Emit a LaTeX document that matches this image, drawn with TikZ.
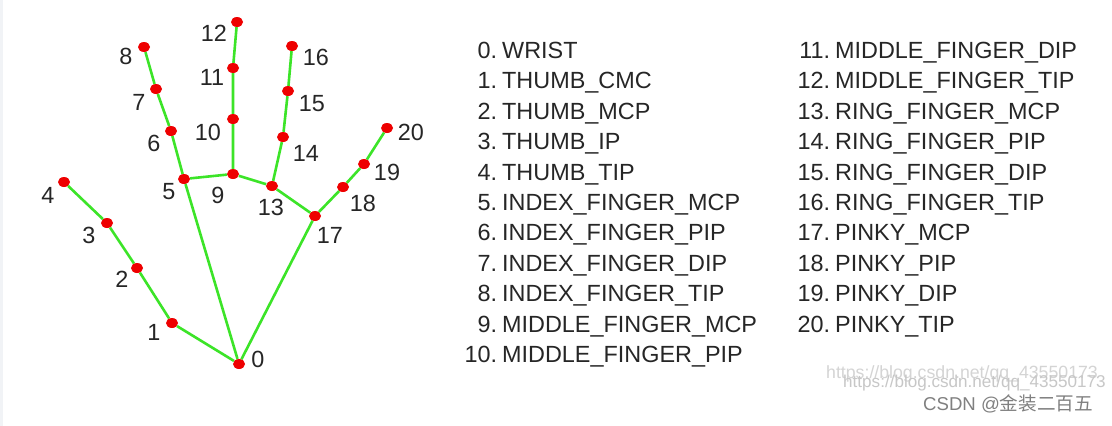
\documentclass[tikz,border=0pt]{standalone}
\usepackage{fontspec}
\setmainfont{Liberation Sans}
\newfontfamily\cjkfont{Noto Sans CJK SC}
\usepackage{tikz}
\usetikzlibrary{shapes.geometric, positioning}
\definecolor{bonegreen}{RGB}{60,228,40}
\definecolor{jointred}{RGB}{238,0,0}
\definecolor{labelgray}{RGB}{38,38,38}
\definecolor{edgegray}{RGB}{241,243,246}
\tikzstyle{bone} = [bonegreen, line width=2.6pt]

\begin{document}
\begin{tikzpicture}[x=1pt, y=-1pt,
    joint/.style={ellipse, fill=jointred, minimum width=12pt, minimum height=10pt, inner sep=0pt},
    num/.style={inner sep=0pt, text=labelgray, font=\fontsize{23.4}{28}\selectfont},
    row/.style={inner sep=0pt, text=labelgray, text width=270pt, align=left, text height=18pt, text depth=6pt, font=\fontsize{23.4}{28}\selectfont},
    watermark/.style={anchor=base west, inner sep=0pt},
    node distance=6pt
  ]
    \useasboundingbox (0,0) rectangle (1112,426);
    \fill[white] (0,0) rectangle (1112,426);
    \fill[edgegray] (0,0) rectangle (3,426);

    % Joints
    \node[joint] (p0) at (239,364) {};
    \node[joint] (p1) at (172,323) {};
    \node[joint] (p2) at (137,268) {};
    \node[joint] (p3) at (107,223) {};
    \node[joint] (p4) at (64,182) {};
    \node[joint] (p5) at (184,179) {};
    \node[joint] (p6) at (171,131) {};
    \node[joint] (p7) at (156,89) {};
    \node[joint] (p8) at (144,47) {};
    \node[joint] (p9) at (233,174) {};
    \node[joint] (p10) at (233,119) {};
    \node[joint] (p11) at (233,68) {};
    \node[joint] (p12) at (237,22) {};
    \node[joint] (p13) at (272,186) {};
    \node[joint] (p14) at (283,137) {};
    \node[joint] (p15) at (288,91) {};
    \node[joint] (p16) at (292,46) {};
    \node[joint] (p17) at (315,216) {};
    \node[joint] (p18) at (343,187) {};
    \node[joint] (p19) at (364,164) {};
    \node[joint] (p20) at (387,128) {};

    % Bones
    \draw[bone] (p0) -- (p1) -- (p2) -- (p3) -- (p4);
    \draw[bone] (p0) -- (p5) -- (p6) -- (p7) -- (p8);
    \draw[bone] (p9) -- (p10) -- (p11) -- (p12);
    \draw[bone] (p13) -- (p14) -- (p15) -- (p16);
    \draw[bone] (p0) -- (p17) -- (p18) -- (p19) -- (p20);
    \draw[bone] (p5) -- (p9) -- (p13) -- (p17);

    % Joint numbers
    \node[num] (n0) at (258,359) {0};
    \node[num] (n1) at (154,332) {1};
    \node[num] (n2) at (122,279) {2};
    \node[num] (n3) at (89,235) {3};
    \node[num] (n4) at (48,195) {4};
    \node[num] (n5) at (169,192) {5};
    \node[num] (n6) at (154,143) {6};
    \node[num] (n7) at (139,102) {7};
    \node[num] (n8) at (126,56) {8};
    \node[num] (n9) at (218,195) {9};
    \node[num] (n10) at (208,132) {10};
    \node[num] (n11) at (212,77) {11};
    \node[num] (n12) at (214,33) {12};
    \node[num] (n13) at (271,207) {13};
    \node[num] (n14) at (306,153) {14};
    \node[num] (n15) at (312,104) {15};
    \node[num] (n16) at (316,57) {16};
    \node[num] (n17) at (330,235) {17};
    \node[num] (n18) at (363,203) {18};
    \node[num] (n19) at (387,172) {19};
    \node[num] (n20) at (411,132) {20};

    % Legend, left column
    \node[row, anchor=north west] (r0) at (497,40.3) {\makebox[0pt][r]{0.}\hspace{5pt}WRIST};
    \node[row, below=of r0] (r1) {\makebox[0pt][r]{1.}\hspace{5pt}THUMB\_CMC};
    \node[row, below=of r1] (r2) {\makebox[0pt][r]{2.}\hspace{5pt}THUMB\_MCP};
    \node[row, below=of r2] (r3) {\makebox[0pt][r]{3.}\hspace{5pt}THUMB\_IP};
    \node[row, below=of r3] (r4) {\makebox[0pt][r]{4.}\hspace{5pt}THUMB\_TIP};
    \node[row, below=of r4] (r5) {\makebox[0pt][r]{5.}\hspace{5pt}INDEX\_FINGER\_MCP};
    \node[row, below=of r5] (r6) {\makebox[0pt][r]{6.}\hspace{5pt}INDEX\_FINGER\_PIP};
    \node[row, below=of r6] (r7) {\makebox[0pt][r]{7.}\hspace{5pt}INDEX\_FINGER\_DIP};
    \node[row, below=of r7] (r8) {\makebox[0pt][r]{8.}\hspace{5pt}INDEX\_FINGER\_TIP};
    \node[row, below=of r8] (r9) {\makebox[0pt][r]{9.}\hspace{5pt}MIDDLE\_FINGER\_MCP};
    \node[row, below=of r9] (r10) {\makebox[0pt][r]{10.}\hspace{5pt}MIDDLE\_FINGER\_PIP};

    % Legend, right column
    \node[row, anchor=north west] (r11) at (830,40.3) {\makebox[0pt][r]{11.}\hspace{5pt}MIDDLE\_FINGER\_DIP};
    \node[row, below=of r11] (r12) {\makebox[0pt][r]{12.}\hspace{5pt}MIDDLE\_FINGER\_TIP};
    \node[row, below=of r12] (r13) {\makebox[0pt][r]{13.}\hspace{5pt}RING\_FINGER\_MCP};
    \node[row, below=of r13] (r14) {\makebox[0pt][r]{14.}\hspace{5pt}RING\_FINGER\_PIP};
    \node[row, below=of r14] (r15) {\makebox[0pt][r]{15.}\hspace{5pt}RING\_FINGER\_DIP};
    \node[row, below=of r15] (r16) {\makebox[0pt][r]{16.}\hspace{5pt}RING\_FINGER\_TIP};
    \node[row, below=of r16] (r17) {\makebox[0pt][r]{17.}\hspace{5pt}PINKY\_MCP};
    \node[row, below=of r17] (r18) {\makebox[0pt][r]{18.}\hspace{5pt}PINKY\_PIP};
    \node[row, below=of r18] (r19) {\makebox[0pt][r]{19.}\hspace{5pt}PINKY\_DIP};
    \node[row, below=of r19] (r20) {\makebox[0pt][r]{20.}\hspace{5pt}PINKY\_TIP};

    % Watermark
    \node[watermark, text=black!17, font=\fontsize{17.7}{20}\selectfont] (url1) at (826,378) {https://blog.csdn.net/qq\_43550173};
    \node[watermark, text=black!22, font=\fontsize{17.1}{20}\selectfont] (url2) at (843,387) {https://blog.csdn.net/qq\_43550173};
    \node[watermark, text=black!50, font=\fontsize{18.6}{20}\selectfont] (csdn) at (923,410) {CSDN @{\cjkfont 金装二百五}};
\end{tikzpicture}
\end{document}
